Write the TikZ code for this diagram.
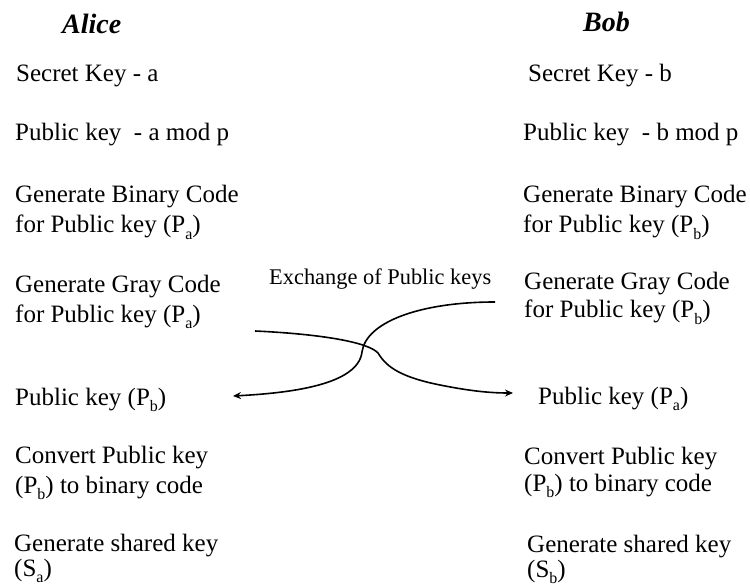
\documentclass[tikz,border=0pt]{standalone}
\usepackage{fontspec}
\setmainfont{Liberation Serif}
\usetikzlibrary{arrows.meta}
\newcommand{\subsc}[1]{\raisebox{-0.55ex}{\fontsize{16}{16}\selectfont #1}}
\newcommand{\twoline}[3][0pt]{\begin{tabular}[t]{@{}l@{}}#2\\[#1]#3\end{tabular}}
\tikzset{
  body/.style={anchor=base west, inner sep=0pt, font=\fontsize{25}{30}\selectfont},
  title/.style={anchor=base west, inner sep=0pt, font=\fontsize{28}{32}\selectfont\bfseries\itshape},
  small/.style={anchor=base west, inner sep=0pt, font=\fontsize{22.4}{26}\selectfont},
  xarrow/.style={line width=1.6pt, -{Stealth[length=8pt,width=7pt]}}
}
\begin{document}
\begin{tikzpicture}[x=1pt,y=-1pt]
\useasboundingbox (0,0) rectangle (750,588);
% titles
\node[title] (alice) at (62,34) {Alice};
\node[title] (bob) at (583,32) {Bob};
% Alice column
\node[body] (a1) at (16,82) {Secret Key - a};
\node[body] (a2) at (15,141) {Public key~~- a mod p};
\node[body] (a3) at (15,203) {\twoline{Generate Binary Code}{for Public key (P\subsc{a})}};
\node[body] (a4) at (15,292) {\twoline{Generate Gray Code}{for Public key (P\subsc{a})}};
\node[body] (a5) at (15,405) {Public key (P\subsc{b})};
\node[body] (a6) at (15,463) {\twoline{Convert Public key}{(P\subsc{b}) to binary code}};
\node[body] (a7) at (14,551) {\twoline[-5pt]{Generate shared key}{(S\subsc{a})}};
% Bob column
\node[body] (b1) at (528,82) {Secret Key - b};
\node[body] (b2) at (523,141) {Public key~~- b mod p};
\node[body] (b3) at (523,203) {\twoline{Generate Binary Code}{for Public key (P\subsc{b})}};
\node[body] (b4) at (524,290) {\twoline[-2pt]{Generate Gray Code}{for Public key (P\subsc{b})}};
\node[body] (b5) at (538,404) {Public key (P\subsc{a})};
\node[body] (b6) at (524,464) {\twoline[-3pt]{Convert Public key}{(P\subsc{b}) to binary code}};
\node[body] (b7) at (527,552) {\twoline[-5pt]{Generate shared key}{(S\subsc{b})}};
% exchange label
\node[small] (ex) at (269,285) {Exchange of Public keys};
% connector end points
\coordinate (c1s) at (255,331);
\coordinate (c1e) at (513,393);
\coordinate (c2s) at (495,302);
\coordinate (c2e) at (233,396);
% Alice -> Bob
\draw[xarrow] (c1s) .. controls (320,334) and (368,342) .. (378,353)
  .. controls (385,364) and (395,376) .. (440,385)
  .. controls (470,391) and (490,393) .. (c1e);
% Bob -> Alice
\draw[xarrow] (c2s) .. controls (420,302) and (366,322) .. (362,352)
  .. controls (358,385) and (290,393) .. (c2e);
\end{tikzpicture}
\end{document}
